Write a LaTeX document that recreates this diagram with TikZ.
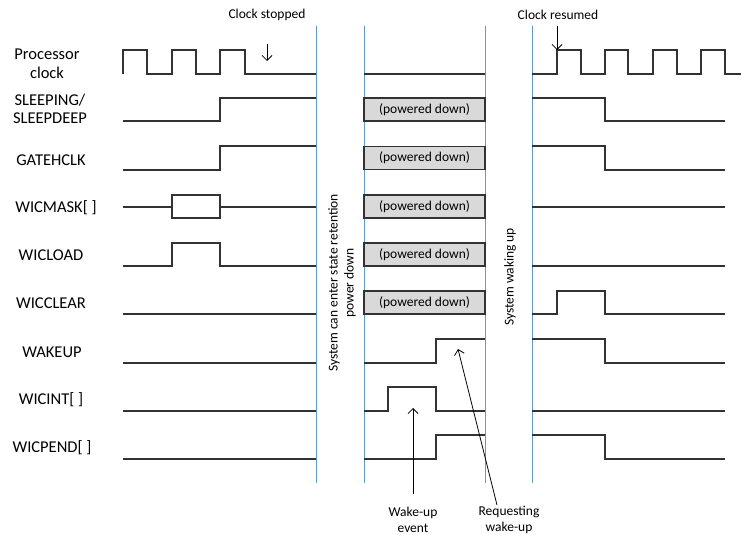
\documentclass[tikz,border=0pt]{standalone}
\usepackage{fontspec}
\setmainfont{Carlito}
\usetikzlibrary{arrows.meta}
\definecolor{sepblue}{RGB}{91,155,213}
\definecolor{sigcol}{RGB}{50,50,50}
\definecolor{boxfill}{RGB}{217,217,217}
\begin{document}
\begin{tikzpicture}[x=1pt,y=-1pt,
  sig/.style={line width=1.2pt, draw=sigcol, line join=miter},
  sep/.style={draw=sepblue, line width=1pt},
  pd/.style={draw=sigcol, fill=boxfill, line width=1.1pt, minimum width=121pt, minimum height=23pt, inner sep=0pt, font=\fontsize{13.5}{15}\selectfont},
  lbl/.style={font=\fontsize{16.5}{18.5}\selectfont, align=center, inner sep=0pt},
  note/.style={font=\fontsize{13.5}{16}\selectfont, align=center, inner sep=0pt},
  ptr/.style={line width=0.8pt, draw=black, -{Straight Barb[length=5pt,width=10pt]}}]
\useasboundingbox (0,0) rectangle (742,535);

% separators
\draw[sep] (316,26) -- (316,483);
\draw[sep] (364,26) -- (364,483);
\draw[sep] (485,26) -- (485,483);
\draw[sep] (532,26) -- (532,483);

% labels
\node[lbl] (lclk) at (47,64) {Processor\\clock};
\node[lbl] (lsleep) at (50,109) {SLEEPING/\\SLEEPDEEP};
\node[lbl] (lgate) at (51,160) {GATEHCLK};
\node[lbl] (lmask) at (56,208) {WICMASK[ ]};
\node[lbl] (lload) at (51,255) {WICLOAD};
\node[lbl] (lclear) at (51,303) {WICCLEAR};
\node[lbl] (lwake) at (52,352) {WAKEUP};
\node[lbl] (lint) at (51,400) {WICINT[ ]};
\node[lbl] (lpend) at (52,448) {WICPEND[ ]};

% processor clock
\draw[sig] (123,74) -- (123,50) -- (147,50) -- (147,74) -- (172,74) -- (172,50) -- (196,50) -- (196,74)
  -- (220,74) -- (220,50) -- (245,50) -- (245,74) -- (316,74);
\draw[sig] (364,74) -- (485,74);
\draw[sig] (532,74) -- (557,74) -- (557,50) -- (581,50) -- (581,74) -- (605,74) -- (605,50) -- (628,50) -- (628,74)
  -- (653,74) -- (653,50) -- (677,50) -- (677,74) -- (701,74) -- (701,50) -- (725,50) -- (725,74) -- (741,74);

% sleeping
\draw[sig] (123,121) -- (220,121) -- (220,98) -- (316,98);
\draw[sig] (532,98) -- (605,98) -- (605,121) -- (725,121);
% gatehclk
\draw[sig] (123,170) -- (220,170) -- (220,146) -- (316,146);
\draw[sig] (532,146) -- (605,146) -- (605,170) -- (725,170);
% wicmask
\draw[sig] (123,207) -- (172,207);
\draw[sig] (172,195) rectangle (220,218);
\draw[sig] (220,207) -- (316,207);
\draw[sig] (532,207) -- (725,207);
% wicload
\draw[sig] (123,266) -- (172,266) -- (172,243) -- (220,243) -- (220,266) -- (316,266);
\draw[sig] (532,266) -- (725,266);
% wicclear
\draw[sig] (123,314) -- (316,314);
\draw[sig] (532,314) -- (557,314) -- (557,291) -- (605,291) -- (605,314) -- (725,314);
% wakeup
\draw[sig] (123,363) -- (316,363);
\draw[sig] (364,363) -- (436,363) -- (436,339) -- (485,339);
\draw[sig] (532,339) -- (605,339) -- (605,363) -- (725,363);
% wicint
\draw[sig] (123,411) -- (316,411);
\draw[sig] (364,411) -- (388,411) -- (388,387) -- (436,387) -- (436,411) -- (485,411);
\draw[sig] (532,411) -- (725,411);
% wicpend
\draw[sig] (123,459) -- (316,459);
\draw[sig] (364,459) -- (436,459) -- (436,435) -- (485,435);
\draw[sig] (532,435) -- (605,435) -- (605,459) -- (725,459);

% powered down boxes
\node[pd] (pd1) at (424.5,109.5) {(powered down)};
\node[pd] (pd2) at (424.5,158) {(powered down)};
\node[pd] (pd3) at (424.5,206.5) {(powered down)};
\node[pd] (pd4) at (424.5,254.5) {(powered down)};
\node[pd] (pd5) at (424.5,302.5) {(powered down)};

% rotated notes
\node[note, rotate=90] (enter) at (342,283) {System can enter state retention\\power down};
\node[note, rotate=90] (waking) at (510,277) {System waking up};

% clock annotations
\node[note] (cstop) at (267,15) {Clock stopped};
\node[note] (cres) at (558,15) {Clock resumed};
\coordinate (csA) at (267,44);
\coordinate (csB) at (267,61);
\draw[ptr] (csA) -- (csB);
\coordinate (crA) at (557,26);
\coordinate (crB) at (557,50);
\draw[ptr] (crA) -- (crB);

% bottom annotations
\node[note] (wev) at (413,520) {Wake-up\\event};
\node[note] (rqw) at (509,520) {Requesting\\wake-up};
\coordinate (weBase) at (413,494);
\coordinate (weTip) at (413,408);
\draw[ptr] (weBase) -- (weTip);
\coordinate (rqBase) at (497,505);
\coordinate (rqTip) at (458,349);
\draw[ptr] (rqBase) -- (rqTip);
\end{tikzpicture}
\end{document}
